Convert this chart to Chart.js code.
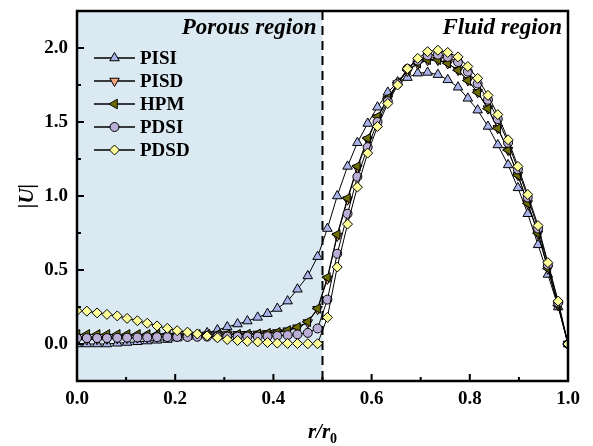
<!DOCTYPE html>
<html>
<head>
<meta charset="utf-8">
<script src="https://cdn.jsdelivr.net/npm/chart.js@4"></script>
<style>
  html, body { margin: 0; padding: 0; background: #fff; }
</style>
</head>
<body>
<canvas id="chart" width="593" height="446"></canvas>
<script>
// radial position r/r0 (porous points up to 0.49, fluid points from 0.51)
const radius = [0.000, 0.020, 0.041, 0.061, 0.082, 0.102, 0.123, 0.143, 0.163, 0.184,
  0.204, 0.225, 0.245, 0.265, 0.286, 0.306, 0.327, 0.347, 0.368, 0.388,
  0.408, 0.429, 0.449, 0.470, 0.490,
  0.510, 0.530, 0.551, 0.571, 0.592, 0.612, 0.633, 0.653, 0.673, 0.694,
  0.714, 0.735, 0.755, 0.776, 0.796, 0.816, 0.837, 0.857, 0.878, 0.898,
  0.918, 0.939, 0.959, 0.980, 1.000];

const pisi = [0, 0, 0, 0, 0.005, 0.01, 0.015, 0.02, 0.025, 0.03,
  0.04, 0.05, 0.06, 0.075, 0.095, 0.115, 0.135, 0.155, 0.18, 0.205,
  0.24, 0.29, 0.37, 0.46, 0.59,
  0.78, 1.0, 1.2, 1.36, 1.49, 1.6, 1.7, 1.77, 1.8, 1.83,
  1.835, 1.82, 1.785, 1.735, 1.66, 1.58, 1.47, 1.345, 1.21, 1.055,
  0.88, 0.67, 0.47, 0.25, 0];

const pisd = [0.03, 0.03, 0.032, 0.035, 0.038, 0.04, 0.043, 0.045, 0.05, 0.053,
  0.055, 0.058, 0.06, 0.062, 0.063, 0.064, 0.065, 0.066, 0.068, 0.072,
  0.078, 0.09, 0.11, 0.145, 0.235,
  0.44, 0.73, 0.975, 1.19, 1.38, 1.53, 1.655, 1.76, 1.845, 1.893,
  1.917, 1.918, 1.895, 1.85, 1.78, 1.7, 1.59, 1.457, 1.31, 1.14,
  0.95, 0.745, 0.508, 0.26, 0];

const hpm = [0.065, 0.065, 0.065, 0.065, 0.065, 0.065, 0.065, 0.065, 0.065, 0.065,
  0.065, 0.065, 0.065, 0.065, 0.065, 0.065, 0.066, 0.067, 0.069, 0.073,
  0.079, 0.092, 0.113, 0.15, 0.24,
  0.45, 0.74, 0.985, 1.2, 1.39, 1.536, 1.66, 1.766, 1.85, 1.897,
  1.92, 1.92, 1.897, 1.85, 1.78, 1.7, 1.59, 1.457, 1.31, 1.14,
  0.95, 0.748, 0.51, 0.26, 0];

const pdsi = [0.04, 0.04, 0.04, 0.04, 0.042, 0.043, 0.044, 0.045, 0.046, 0.047,
  0.048, 0.048, 0.049, 0.05, 0.05, 0.05, 0.05, 0.05, 0.05, 0.052,
  0.055, 0.06, 0.065, 0.075, 0.105,
  0.3, 0.61, 0.88, 1.13, 1.33, 1.5, 1.64, 1.76, 1.86, 1.915,
  1.95, 1.955, 1.94, 1.905, 1.84, 1.76, 1.65, 1.52, 1.36, 1.18,
  0.99, 0.78, 0.535, 0.28, 0];

const pdsd = [0.225, 0.222, 0.21, 0.2, 0.19, 0.173, 0.157, 0.14, 0.122, 0.106,
  0.09, 0.08, 0.068, 0.055, 0.042, 0.03, 0.024, 0.018, 0.014, 0.01,
  0.006, 0.004, 0.003, 0.002, 0.002,
  0.18, 0.52, 0.81, 1.06, 1.29, 1.47, 1.625, 1.75, 1.86, 1.93,
  1.975, 1.985, 1.97, 1.94, 1.875, 1.795, 1.68, 1.55, 1.38, 1.2,
  1.01, 0.8, 0.55, 0.29, 0];

const xTicks = [0, 0.2, 0.4, 0.6, 0.8, 1.0];
const xMinorTicks = [0.1, 0.3, 0.5, 0.7, 0.9];
const yTicks = [0, 0.5, 1.0, 1.5, 2.0];
const yMinorTicks = [0.25, 0.75, 1.25, 1.75];
const regionSplit = 0.5;

const serif = "'Liberation Serif', 'Times New Roman', serif";

function series(label, values, color, style, rotation, radiusPx, order) {
  return {
    label: label,
    data: radius.map((r, i) => ({ x: r, y: values[i] })),
    showLine: true,
    borderColor: "#000",
    borderWidth: 1,
    backgroundColor: color,
    pointBackgroundColor: color,
    pointBorderColor: "#000",
    pointBorderWidth: 1,
    pointRadius: radiusPx,
    pointStyle: style,
    rotation: rotation,
    order: order,
  };
}

const decor = {
  id: "decor",
  beforeDatasetsDraw(chart) {
    const { ctx, chartArea: a, scales } = chart;
    const split = scales.x.getPixelForValue(regionSplit);
    ctx.save();
    ctx.fillStyle = "#DAE9F2";
    ctx.fillRect(a.left, a.top, split - a.left, a.bottom - a.top);
    ctx.strokeStyle = "#000";
    ctx.lineWidth = 2;
    ctx.setLineDash([9, 6]);
    ctx.beginPath();
    ctx.moveTo(split, a.top);
    ctx.lineTo(split, a.bottom);
    ctx.stroke();
    ctx.restore();
  },
  afterDatasetsDraw(chart) {
    const { ctx, chartArea: a, scales } = chart;
    const xs = scales.x, ys = scales.y;
    ctx.save();

    // frame
    ctx.strokeStyle = "#000";
    ctx.lineWidth = 2.5;
    ctx.strokeRect(a.left, a.top, a.right - a.left, a.bottom - a.top);

    // inward ticks
    ctx.lineWidth = 2;
    ctx.beginPath();
    xTicks.forEach((v) => {
      const px = xs.getPixelForValue(v);
      ctx.moveTo(px, a.bottom); ctx.lineTo(px, a.bottom - 7);
    });
    xMinorTicks.forEach((v) => {
      const px = xs.getPixelForValue(v);
      ctx.moveTo(px, a.bottom); ctx.lineTo(px, a.bottom - 4);
    });
    yTicks.forEach((v) => {
      const py = ys.getPixelForValue(v);
      ctx.moveTo(a.left, py); ctx.lineTo(a.left + 7, py);
    });
    yMinorTicks.forEach((v) => {
      const py = ys.getPixelForValue(v);
      ctx.moveTo(a.left, py); ctx.lineTo(a.left + 4, py);
    });
    ctx.stroke();

    // region labels
    const split = xs.getPixelForValue(regionSplit);
    ctx.fillStyle = "#000";
    ctx.font = "italic bold 23px " + serif;
    ctx.textBaseline = "alphabetic";
    ctx.textAlign = "right";
    ctx.fillText("Porous region", split - 6, a.top + 23);
    ctx.fillText("Fluid region", a.right - 6, a.top + 23);

    // legend: line with marker, then name
    ctx.font = "bold 19px " + serif;
    ctx.textAlign = "left";
    ctx.textBaseline = "middle";
    chart.data.datasets.forEach((ds, i) => {
      const y = 58 + i * 23;
      ctx.strokeStyle = "#000";
      ctx.lineWidth = 1.5;
      ctx.setLineDash([]);
      ctx.beginPath();
      ctx.moveTo(94, y); ctx.lineTo(135, y);
      ctx.stroke();
      ctx.fillStyle = ds.pointBackgroundColor;
      ctx.lineWidth = 1;
      Chart.helpers.drawPoint(ctx, {
        pointStyle: ds.pointStyle, rotation: ds.rotation,
        radius: ds.pointRadius, borderWidth: 1,
      }, 114.5, y);
      ctx.fillStyle = "#000";
      ctx.fillText(ds.label, 140, y + 1);
    });

    // axis titles
    ctx.save();
    ctx.translate(28, (a.top + a.bottom) / 2);
    ctx.rotate(-Math.PI / 2);
    ctx.textAlign = "center";
    ctx.textBaseline = "middle";
    ctx.font = "italic bold 21px " + serif;
    ctx.fillText("|U|", 0, 0);
    ctx.restore();

    ctx.textAlign = "left";
    ctx.textBaseline = "alphabetic";
    ctx.font = "italic bold 21px " + serif;
    const main = "r/r";
    const w = ctx.measureText(main).width;
    ctx.font = "bold 14px " + serif;
    const w0 = ctx.measureText("0").width;
    const x0 = (a.left + a.right) / 2 - (w + w0) / 2;
    ctx.font = "italic bold 21px " + serif;
    ctx.fillText(main, x0, 438);
    ctx.font = "bold 14px " + serif;
    ctx.fillText("0", x0 + w, 443);
    ctx.restore();
  },
};

new Chart(document.getElementById("chart"), {
  type: "scatter",
  data: {
    datasets: [
      series("PISI", pisi, "#A9B3EA", "triangle", 0, 5.5, 5),
      series("PISD", pisd, "#F6A77F", "triangle", 180, 5.5, 4),
      series("HPM", hpm, "#6E6E00", "triangle", -90, 5.5, 3),
      series("PDSI", pdsi, "#BAADD6", "circle", 0, 4.5, 2),
      series("PDSD", pdsd, "#FFFF99", "rectRot", 0, 5, 1),
    ],
  },
  options: {
    responsive: false,
    animation: false,
    layout: { padding: { top: 11, right: 25, left: 0, bottom: 0 } },
    plugins: { legend: { display: false }, tooltip: { enabled: false } },
    scales: {
      x: {
        type: "linear",
        min: 0,
        max: 1,
        afterBuildTicks: (s) => { s.ticks = xTicks.map((v) => ({ value: v })); },
        afterFit: (s) => {
          s.height = 65;
          s.paddingLeft = 0;
          s.paddingRight = 0;
        },
        grid: { display: false, drawTicks: false },
        border: { display: false },
        ticks: {
          padding: 7,
          color: "#000",
          maxRotation: 0,
          autoSkip: false,
          font: { family: serif, weight: "bold", size: 19 },
          callback: (v) => Number(v).toFixed(1),
        },
      },
      y: {
        type: "linear",
        min: -0.25,
        max: 2.25,
        afterBuildTicks: (s) => { s.ticks = yTicks.map((v) => ({ value: v })); },
        afterFit: (s) => {
          s.width = 77;
          s.paddingTop = 0;
          s.paddingBottom = 0;
        },
        grid: { display: false, drawTicks: false },
        border: { display: false },
        ticks: {
          padding: 9,
          color: "#000",
          autoSkip: false,
          font: { family: serif, weight: "bold", size: 19 },
          callback: (v) => Number(v).toFixed(1),
        },
      },
    },
  },
  plugins: [decor],
});
</script>
</body>
</html>
